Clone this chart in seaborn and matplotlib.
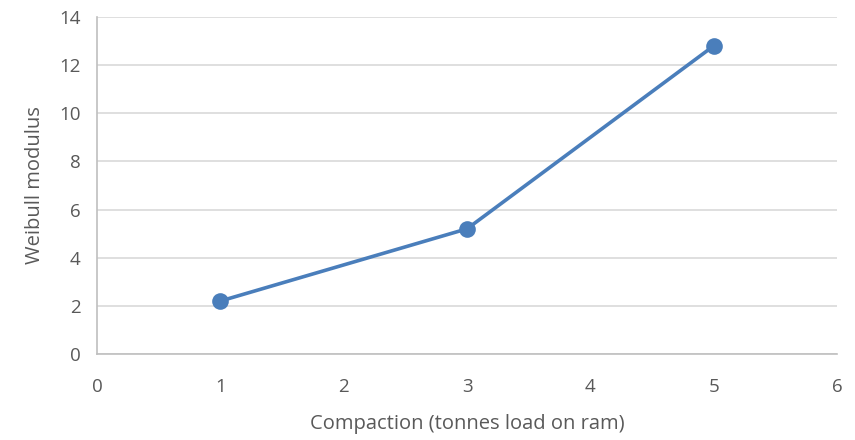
import matplotlib
matplotlib.use("Agg")
import matplotlib.pyplot as plt
import seaborn as sns
import pandas as pd

compaction = [1, 3, 5]
weibull = [2.2, 5.2, 12.8]
x_ticks = [0, 1, 2, 3, 4, 5, 6]
y_ticks = [0, 2, 4, 6, 8, 10, 12, 14]

sns.set_theme(style="white")
plt.rcParams['font.family'] = ['Open Sans', 'DejaVu Sans']

df = pd.DataFrame({"x": compaction, "y": weibull})

fig = plt.figure(figsize=(8.55, 4.4), dpi=100)
ax = fig.add_axes([0.1135, 0.1955, 0.979 - 0.1135, 0.9614 - 0.1955])

sns.lineplot(data=df, x="x", y="y", ax=ax, color="#4a7ebb", linewidth=2.6,
             marker="o", markersize=12, markeredgewidth=0, zorder=3)

ax.set_xlim(0, 6)
ax.set_ylim(0, 14)
ax.set_xticks(x_ticks)
ax.set_yticks(y_ticks)
ax.yaxis.grid(True, color="#d9d9d9", linewidth=1.2)
ax.xaxis.grid(False)
for s in ["top", "right"]:
    ax.spines[s].set_visible(False)
ax.spines["left"].set_color("#bfbfbf")
ax.spines["bottom"].set_color("#bfbfbf")
ax.spines["left"].set_linewidth(1.2)
ax.spines["bottom"].set_linewidth(1.2)
ax.tick_params(axis="both", length=0, labelsize=13.5, colors="#595959")
ax.tick_params(axis="x", pad=17)
ax.tick_params(axis="y", pad=12)
ax.set_xlabel("Compaction (tonnes load on ram)", fontsize=14.5, color="#595959", labelpad=13)
ax.set_ylabel("Weibull modulus", fontsize=14.5, color="#595959", labelpad=10)

fig.savefig("out.png", dpi=100)
